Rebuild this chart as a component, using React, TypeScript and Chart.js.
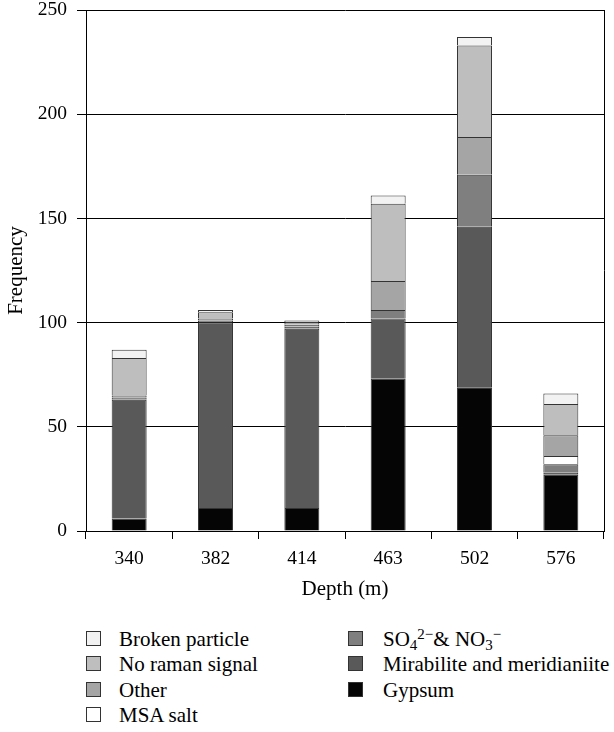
import React, { useEffect, useRef } from "react";
import { Chart, registerables } from "chart.js";

Chart.register(...registerables);

const categories = ["340", "382", "414", "463", "502", "576"];
const gypsum = [6, 11, 11, 73, 69, 27];
const mirabilite = [57, 89, 86, 29, 77, 1];
const so4no3 = [1, 1, 1, 4, 25, 4];
const msaSalt = [0, 0, 0, 0, 0, 4];
const other = [1, 1, 1, 14, 18, 10];
const noRaman = [18, 3, 1, 37, 44, 15];
const broken = [4, 1, 1, 4, 4, 5];

const yTicks = [0, 50, 100, 150, 200, 250];

const FONT = "Liberation Serif, DejaVu Serif, serif";

const COLORS = {
  gypsum: "#050505",
  mirabilite: "#595959",
  so4: "#7f7f7f",
  msa: "#ffffff",
  other: "#a5a5a5",
  noRaman: "#bebebe",
  broken: "#f2f2f2",
};
const BORDER = "#333333";

const rightBorder = {
  id: "rightBorder",
  afterDraw(chart: any) {
    const { ctx, chartArea } = chart;
    ctx.save();
    ctx.strokeStyle = "#000";
    ctx.lineWidth = 1;
    ctx.beginPath();
    const x = Math.round(chartArea.right) + 0.5;
    ctx.moveTo(x, chartArea.top);
    ctx.lineTo(x, chartArea.bottom);
    ctx.stroke();
    ctx.restore();
  },
};

export default function App() {
  const ref = useRef<HTMLCanvasElement | null>(null);

  useEffect(() => {
    if (!ref.current) return;
    const mk = (label: string, data: number[], color: string) => ({
      label,
      data,
      backgroundColor: color,
      borderColor: BORDER,
      borderWidth: 1,
      barPercentage: 0.405,
      categoryPercentage: 1,
    });
    const chart = new Chart(ref.current, {
      type: "bar",
      data: {
        labels: categories,
        datasets: [
          mk("Gypsum", gypsum, COLORS.gypsum),
          mk("Mirabilite and meridianiite", mirabilite, COLORS.mirabilite),
          mk("SO4 & NO3", so4no3, COLORS.so4),
          mk("MSA salt", msaSalt, COLORS.msa),
          mk("Other", other, COLORS.other),
          mk("No raman signal", noRaman, COLORS.noRaman),
          mk("Broken particle", broken, COLORS.broken),
        ],
      },
      options: {
        animation: false,
        responsive: false,
        maintainAspectRatio: false,
        layout: { padding: { top: 10, right: 10, left: 0, bottom: 0 } },
        plugins: {
          legend: { display: false },
          tooltip: { enabled: false },
        },
        scales: {
          x: {
            stacked: true,
            afterFit: (s: any) => {
              s.height = 71;
              s.paddingLeft = 0;
              s.paddingRight = 0;
            },
            grid: {
              display: true,
              drawOnChartArea: false,
              drawTicks: true,
              tickLength: 8,
              color: "#000",
              offset: true,
            },
            border: { display: true, color: "#000", width: 1 },
            ticks: {
              color: "#000",
              padding: 8,
              font: { family: FONT, size: 19.5 },
            },
            title: {
              display: true,
              text: "Depth (m)",
              color: "#000",
              padding: { top: 0, bottom: 0 },
              font: { family: FONT, size: 21 },
            },
          },
          y: {
            stacked: true,
            min: 0,
            max: 250,
            afterFit: (s: any) => {
              s.width = 86;
              s.paddingTop = 0;
              s.paddingBottom = 0;
            },
            afterBuildTicks: (s: any) => {
              s.ticks = yTicks.map((v) => ({ value: v }));
            },
            grid: {
              color: "#000",
              lineWidth: 1,
              drawTicks: true,
              tickLength: 9,
            },
            border: { display: true, color: "#000", width: 1 },
            ticks: {
              color: "#000",
              padding: 10,
              font: { family: FONT, size: 19.5, lineHeight: 1 },
            },
            title: {
              display: true,
              text: "Frequency",
              color: "#000",
              padding: { top: 4, bottom: 0 },
              font: { family: FONT, size: 21 },
            },
          },
        },
      },
      plugins: [rightBorder],
    });
    return () => chart.destroy();
  }, []);

  const box = (color: string, left: number, top: number) => (
    <div
      style={{
        position: "absolute",
        left,
        top: top - 8,
        width: 15,
        height: 15,
        boxSizing: "border-box",
        background: color,
        border: `1px solid ${BORDER}`,
      }}
    />
  );
  const text = (content: React.ReactNode, left: number, top: number) => (
    <div
      style={{
        position: "absolute",
        left,
        top: top - 12,
        height: 24,
        lineHeight: "24px",
        fontFamily: FONT,
        fontSize: 21,
        color: "#000",
        whiteSpace: "nowrap",
      }}
    >
      {content}
    </div>
  );

  const rows = [639, 664, 690, 715];
  const col1 = [
    { c: COLORS.broken, t: "Broken particle" },
    { c: COLORS.noRaman, t: "No raman signal" },
    { c: COLORS.other, t: "Other" },
    { c: COLORS.msa, t: "MSA salt" },
  ];
  const supStyle: React.CSSProperties = { fontSize: 15, lineHeight: 0, verticalAlign: "7px" };
  const subStyle: React.CSSProperties = { fontSize: 15, lineHeight: 0, verticalAlign: "-4px" };
  const col2: { c: string; t: React.ReactNode }[] = [
    {
      c: COLORS.so4,
      t: (
        <span>
          SO<span style={subStyle}>4</span>
          <span style={supStyle}>2−</span>&amp; NO<span style={subStyle}>3</span>
          <span style={supStyle}>−</span>
        </span>
      ),
    },
    { c: COLORS.mirabilite, t: "Mirabilite and meridianiite" },
    { c: COLORS.gypsum, t: "Gypsum" },
  ];

  return (
    <div
      style={{
        position: "absolute",
        left: 0,
        top: 0,
        width: 614,
        height: 732,
        background: "#fff",
        overflow: "hidden",
      }}
    >
      <canvas ref={ref} width={614} height={602} style={{ display: "block", width: 614, height: 602 }} />
      {col1.map((r, i) => (
        <React.Fragment key={"a" + i}>
          {box(r.c, 86, rows[i])}
          {text(r.t, 119, rows[i])}
        </React.Fragment>
      ))}
      {col2.map((r, i) => (
        <React.Fragment key={"b" + i}>
          {box(r.c, 348, rows[i])}
          {text(r.t, 383, rows[i])}
        </React.Fragment>
      ))}
    </div>
  );
}
